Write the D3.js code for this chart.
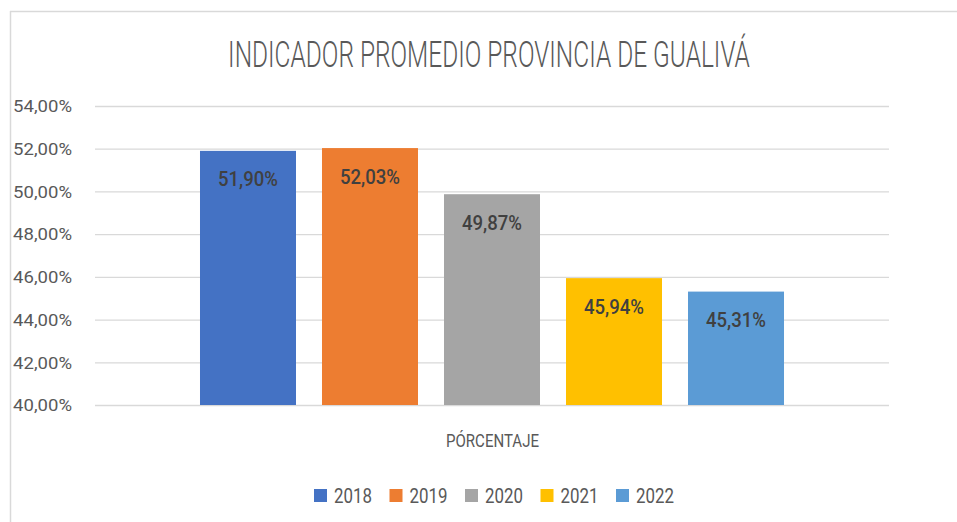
<!DOCTYPE html>
<html><head><meta charset="utf-8">
<script src="https://cdn.jsdelivr.net/npm/d3@7"></script>
<style>html,body{margin:0;padding:0;background:#fff;}svg{display:block;}text{font-family:Roboto,"Liberation Sans",sans-serif;}</style>
</head><body>
<svg id="chart" width="957" height="522"></svg>
<script>
const title = "INDICADOR PROMEDIO PROVINCIA DE GUALIVÁ";
const category = ["PÓRCENTAJE"];
const years = ["2018", "2019", "2020", "2021", "2022"];
const values = [0.5190, 0.5203, 0.4987, 0.4594, 0.4531];
const colors = ["#4472C4", "#ED7D31", "#A5A5A5", "#FFC000", "#5B9BD5"];
const yTicks = [0.40, 0.42, 0.44, 0.46, 0.48, 0.50, 0.52, 0.54];

const svg = d3.select("#chart");
const loc = d3.formatLocale({decimal: ",", thousands: ".", grouping: [3], currency: ["", ""]});
const fmt = loc.format(".2%");

function factorFor(str, size, weight, target) {
  const t = svg.append("text").attr("font-size", size).attr("font-weight", weight).text(str);
  const w = t.node().getComputedTextLength();
  t.remove();
  return target / w;
}
// place a horizontally-scaled text at (x, y)
function scaledText(parent, x, y, f) {
  return parent.append("g").attr("transform", `translate(${x},${y}) scale(${f},1)`).append("text");
}

// chart border (top and left)
svg.append("line").attr("x1", 10).attr("x2", 957).attr("y1", 11.5).attr("y2", 11.5).attr("stroke", "#d9d9d9").attr("stroke-width", 1.5);
svg.append("line").attr("x1", 10.5).attr("x2", 10.5).attr("y1", 11).attr("y2", 522).attr("stroke", "#d9d9d9").attr("stroke-width", 1.5);

const plotL = 95, plotR = 889;
const y = d3.scaleLinear().domain([0.40, 0.54]).range([405, 106]);
const x0 = d3.scaleBand().domain(category).range([plotL, plotR]).paddingInner(0).paddingOuter(0.1508);
const x1 = d3.scaleBand().domain(years).range([0, x0.bandwidth()]).paddingInner(0.2131).paddingOuter(0.1066);

// gridlines + tick labels
const fTick = factorFor("54,00%", 16.5, 400, 59);
const yAxis = d3.axisLeft(y).tickValues(yTicks).tickFormat(fmt).tickSize(-(plotR - plotL)).tickPadding(23);
const gAxis = svg.append("g").attr("transform", `translate(${plotL},0)`).call(yAxis);
gAxis.select(".domain").remove();
gAxis.selectAll(".tick line").attr("stroke", "#d9d9d9").attr("stroke-width", 1.3);
gAxis.selectAll(".tick text")
  .attr("fill", "#595959").attr("font-size", 16.5).attr("font-weight", 400)
  .attr("dy", "0.35em")
  .attr("x", -23 / fTick)
  .attr("transform", `scale(${fTick},1)`);

// bars
const gBars = svg.append("g").attr("transform", `translate(${x0(category[0])},0)`);
gBars.selectAll("rect").data(years).join("rect")
  .attr("x", d => x1(d)).attr("width", x1.bandwidth())
  .attr("y", (d, i) => y(values[i])).attr("height", (d, i) => y(0.40) - y(values[i]))
  .attr("fill", (d, i) => colors[i]);

// data labels
const fLab = factorFor("51,90%", 21, 500, 60);
years.forEach((d, i) => {
  scaledText(gBars, x1(d) + x1.bandwidth() / 2, y(values[i]) + 35.5, fLab)
    .attr("text-anchor", "middle")
    .attr("font-size", 21).attr("font-weight", 500).attr("fill", "#404040")
    .text(fmt(values[i]));
});

// title
scaledText(svg, 489, 67, factorFor(title, 37, 300, 522))
  .attr("text-anchor", "middle")
  .attr("font-size", 37).attr("font-weight", 300).attr("fill", "#595959").text(title);

// category axis label
scaledText(svg, 492.5, 447, factorFor(category[0], 19, 400, 93))
  .attr("text-anchor", "middle")
  .attr("font-size", 19).attr("font-weight", 400).attr("fill", "#595959").text(category[0]);

// legend
const fLeg = factorFor("2018", 20, 400, 38);
const legItems = years.map(yv => {
  const t = svg.append("text").attr("font-size", 20).text(yv);
  const w = t.node().getComputedTextLength() * fLeg;
  t.remove();
  return {yv, w};
});
const sq = 13, gapSq = 7, gapItem = 17.5;
const total = d3.sum(legItems, d => sq + gapSq + d.w) + gapItem * (legItems.length - 1);
let lx = 494 - total / 2;
const gLeg = svg.append("g");
legItems.forEach((d, i) => {
  gLeg.append("rect").attr("x", lx).attr("y", 489).attr("width", sq).attr("height", sq).attr("fill", colors[i]);
  scaledText(gLeg, lx + sq + gapSq, 503, fLeg)
    .attr("font-size", 20).attr("fill", "#595959").text(d.yv);
  lx += sq + gapSq + d.w + gapItem;
});
</script>
</body></html>
